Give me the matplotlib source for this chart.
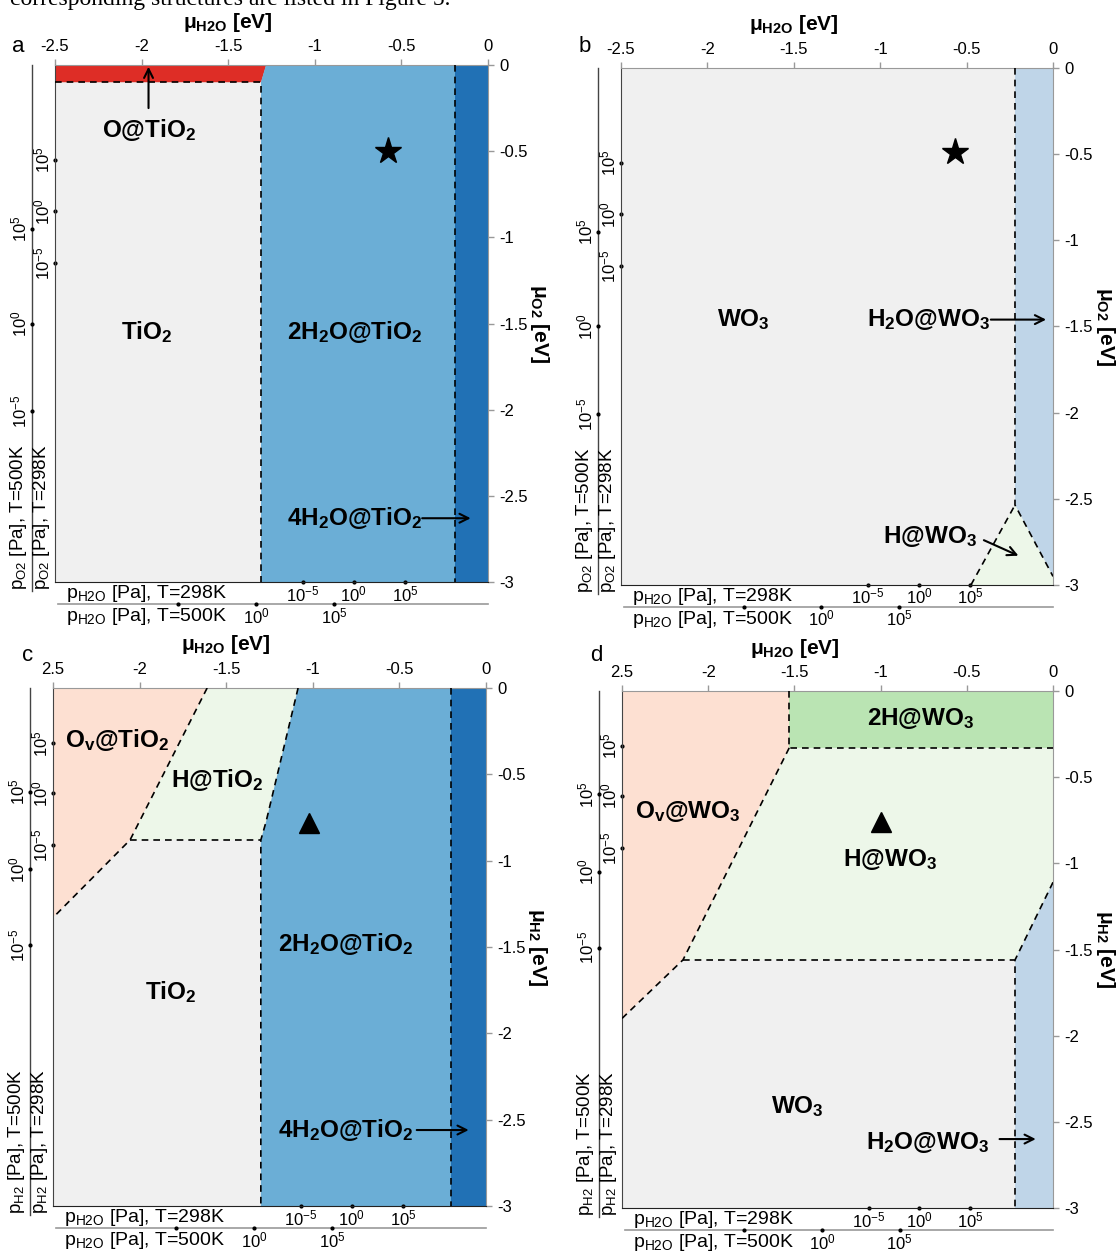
import matplotlib
matplotlib.use('Agg')
import matplotlib.pyplot as plt
import matplotlib.transforms as mtransforms
from matplotlib.patches import Polygon

plt.rcParams['font.family'] = ['Liberation Sans', 'DejaVu Sans']
plt.rcParams['mathtext.fontset'] = 'custom'
plt.rcParams['mathtext.rm'] = 'Liberation Sans'
plt.rcParams['mathtext.it'] = 'Liberation Sans:italic'
plt.rcParams['mathtext.bf'] = 'Liberation Sans:bold'
plt.rcParams['axes.unicode_minus'] = False

W, H, DPI = 1120, 1252, 100

# phase colours
GREY = '#f0f0f0'
RED = '#de2d26'
BLUE = '#6baed6'
DBLUE = '#2171b5'
LBLUE = '#bfd5e8'
PEACH = '#fde0d2'
LGREEN = '#edf7e9'
GREEN = '#bae4b3'

# chemical potential axes (eV)
mu_h2o_ticks = [-2.5, -2.0, -1.5, -1.0, -0.5, 0.0]
mu_h2o_labels_ab = ['-2.5', '-2', '-1.5', '-1', '-0.5', '0']
mu_h2o_labels_cd = ['2.5', '-2', '-1.5', '-1', '-0.5', '0']
mu_gas_ticks = [0.0, -0.5, -1.0, -1.5, -2.0, -2.5, -3.0]
mu_gas_labels = ['0', '-0.5', '-1', '-1.5', '-2', '-2.5', '-3']

# pressure scales, tick positions expressed in eV
p_h2o_298 = [-1.07, -0.775, -0.48]
p_h2o_298_labels = [r'10$^{-5}$', r'10$^{0}$', r'10$^{5}$']
p_h2o_500 = [-1.79, -1.34, -0.89]
p_h2o_500_labels = ['', r'10$^{0}$', r'10$^{5}$']
p_o2_298 = [-0.55, -0.85, -1.15]
p_o2_500 = [-0.95, -1.50, -2.01]
p_h2_298 = [-0.32, -0.61, -0.91]
p_h2_500 = [-0.60, -1.05, -1.49]
p_gas_labels = [r'10$^{5}$', r'10$^{0}$', r'10$^{-5}$']

# ---- panel a: TiO2 in O2 / H2O ----
a_tio2 = [(-2.5, -0.1), (-1.31, -0.1), (-1.31, -3), (-2.5, -3)]
a_o_tio2 = [(-2.5, 0), (-1.28, 0), (-1.31, -0.1), (-2.5, -0.1)]
a_2h2o = [(-1.28, 0), (-0.19, 0), (-0.19, -3), (-1.31, -3), (-1.31, -0.1)]
a_4h2o = [(-0.19, 0), (0, 0), (0, -3), (-0.19, -3)]
a_lines = [[(-2.5, -0.1), (-1.31, -0.1), (-1.31, -3)],
           [(-0.19, 0), (-0.19, -3)]]
a_star = (-0.575, -0.5)
a_labels = [(r'$\mathbf{O@TiO_2}$', -1.96, -0.38),
            (r'$\mathbf{TiO_2}$', -1.97, -1.55),
            (r'$\mathbf{2H_2O@TiO_2}$', -0.77, -1.55),
            (r'$\mathbf{4H_2O@TiO_2}$', -0.77, -2.63)]
a_arrows = [((-1.96, -0.25), (-1.96, -0.01)),
            ((-0.38, -2.63), (-0.10, -2.63))]

# ---- panel b: WO3 in O2 / H2O ----
b_h2o = [(-0.22, 0), (0, 0), (0, -2.95), (-0.22, -2.536)]
b_h = [(-0.475, -3), (-0.22, -2.536), (0, -2.95), (0, -3)]
b_lines = [[(-0.22, 0), (-0.22, -2.536), (0, -2.95)],
           [(-0.475, -3), (-0.22, -2.536)]]
b_star = (-0.567, -0.49)
b_labels = [(r'$\mathbf{WO_3}$', -1.79, -1.46),
            (r'$\mathbf{H_2O@WO_3}$', -0.72, -1.46),
            (r'$\mathbf{H@WO_3}$', -0.71, -2.72)]
b_arrows = [((-0.36, -1.46), (-0.04, -1.46)),
            ((-0.40, -2.74), (-0.20, -2.83))]

# ---- panel c: TiO2 in H2 / H2O ----
c_ov = [(-2.5, 0), (-1.61, 0), (-2.055, -0.88), (-2.5, -1.33)]
c_h = [(-1.61, 0), (-1.085, 0), (-1.27, -0.775), (-1.30, -0.88), (-2.055, -0.88)]
c_tio2 = [(-2.5, -1.33), (-2.055, -0.88), (-1.30, -0.88), (-1.30, -3), (-2.5, -3)]
c_2h2o = [(-1.085, 0), (-0.2, 0), (-0.2, -3), (-1.30, -3), (-1.30, -0.88), (-1.27, -0.775)]
c_4h2o = [(-0.2, 0), (0, 0), (0, -3), (-0.2, -3)]
c_lines = [[(-1.61, 0), (-2.055, -0.88), (-2.5, -1.33)],
           [(-2.055, -0.88), (-1.30, -0.88)],
           [(-1.085, 0), (-1.27, -0.775), (-1.30, -0.88), (-1.30, -3)],
           [(-0.2, 0), (-0.2, -3)]]
c_tri = (-1.02, -0.78)
c_labels = [(r'$\mathbf{O_v@TiO_2}$', -2.13, -0.30),
            (r'$\mathbf{H@TiO_2}$', -1.55, -0.53),
            (r'$\mathbf{2H_2O@TiO_2}$', -0.81, -1.48),
            (r'$\mathbf{TiO_2}$', -1.82, -1.76),
            (r'$\mathbf{4H_2O@TiO_2}$', -0.81, -2.56)]
c_arrows = [((-0.40, -2.56), (-0.10, -2.56))]

# ---- panel d: WO3 in H2 / H2O ----
d_ov = [(-2.5, 0), (-1.53, 0), (-1.53, -0.33), (-2.146, -1.56), (-2.5, -1.90)]
d_2h = [(-1.53, 0), (0, 0), (0, -0.33), (-1.53, -0.33)]
d_h = [(-1.53, -0.33), (0, -0.33), (0, -1.11), (-0.22, -1.56), (-2.146, -1.56)]
d_wo3 = [(-2.5, -1.90), (-2.146, -1.56), (-0.22, -1.56), (-0.22, -3), (-2.5, -3)]
d_h2o = [(0, -1.11), (-0.22, -1.56), (-0.22, -3), (0, -3)]
d_lines = [[(-1.53, 0), (-1.53, -0.33), (0, -0.33)],
           [(-1.53, -0.33), (-2.146, -1.56), (-2.5, -1.90)],
           [(-2.146, -1.56), (-0.22, -1.56), (-0.22, -3)],
           [(0, -1.11), (-0.22, -1.56)]]
d_tri = (-1.0, -0.76)
d_labels = [(r'$\mathbf{2H@WO_3}$', -0.77, -0.16),
            (r'$\mathbf{O_v@WO_3}$', -2.12, -0.70),
            (r'$\mathbf{H@WO_3}$', -0.945, -0.98),
            (r'$\mathbf{WO_3}$', -1.485, -2.41),
            (r'$\mathbf{H_2O@WO_3}$', -0.725, -2.62)]
d_arrows = [((-0.31, -2.60), (-0.10, -2.60))]

panels = [
    dict(letter='a', box=(55, 65, 488, 582), letter_xy=(18, 47),
         regions=[(GREY, a_tio2), (RED, a_o_tio2), (BLUE, a_2h2o), (DBLUE, a_4h2o)],
         lines=a_lines, labels=a_labels, arrows=a_arrows, marker=('*', a_star, 20),
         top=mu_h2o_labels_ab, gas='O2', p298=p_o2_298, p500=p_o2_500),
    dict(letter='b', box=(621, 68, 1053, 585), letter_xy=(585, 47),
         regions=[(LBLUE, b_h2o), (LGREEN, b_h)],
         lines=b_lines, labels=b_labels, arrows=b_arrows, marker=('*', b_star, 20),
         top=mu_h2o_labels_ab, gas='O2', p298=p_o2_298, p500=p_o2_500),
    dict(letter='c', box=(53, 688, 486, 1206), letter_xy=(28, 655),
         regions=[(PEACH, c_ov), (LGREEN, c_h), (GREY, c_tio2), (BLUE, c_2h2o), (DBLUE, c_4h2o)],
         lines=c_lines, labels=c_labels, arrows=c_arrows, marker=('^', c_tri, 14),
         top=mu_h2o_labels_cd, gas='H2', p298=p_h2_298, p500=p_h2_500),
    dict(letter='d', box=(622, 691, 1053, 1208), letter_xy=(596, 655),
         regions=[(PEACH, d_ov), (GREEN, d_2h), (LGREEN, d_h), (GREY, d_wo3), (LBLUE, d_h2o)],
         lines=d_lines, labels=d_labels, arrows=d_arrows, marker=('^', d_tri, 14),
         top=mu_h2o_labels_cd, gas='H2', p298=p_h2_298, p500=p_h2_500),
]

fig = plt.figure(figsize=(W / DPI, H / DPI), dpi=DPI)

# page text running into the top edge
fig.text(10 / W, 1 - 5 / H, 'corresponding structures are listed in Figure 5.',
         family='Liberation Serif', fontsize=17, va='baseline', ha='left')


def shift(trans, dx, dy):
    """Offset a transform by dx, dy pixels (dy positive downwards)."""
    return trans + mtransforms.ScaledTranslation(dx / DPI, -dy / DPI, fig.dpi_scale_trans)


def draw_panel(p):
    l, t, r, b = p['box']
    ax = fig.add_axes([l / W, 1 - b / H, (r - l) / W, (b - t) / H])
    ax.set_xlim(-2.5, 0)
    ax.set_ylim(-3, 0)
    ax.set_facecolor(GREY)

    for color, verts in p['regions']:
        ax.add_patch(Polygon(verts, closed=True, facecolor=color, edgecolor='none', zorder=1))
    for seg in p['lines']:
        xs = [v[0] for v in seg]
        ys = [v[1] for v in seg]
        ax.plot(xs, ys, ls=(0, (4, 3)), color='black', lw=1.2, zorder=3)

    mk, (mx, my), ms = p['marker']
    ax.plot([mx], [my], marker=mk, color='black', ms=ms, zorder=4)

    for txt, x, y in p['labels']:
        ax.text(x, y, txt, ha='center', va='center', fontsize=17.5, zorder=5)
    for (x0, y0), (x1, y1) in p['arrows']:
        ax.annotate('', xy=(x1, y1), xytext=(x0, y0),
                    arrowprops=dict(arrowstyle='->', lw=1.5, color='black',
                                    mutation_scale=16, shrinkA=0, shrinkB=0),
                    zorder=5)

    # mu_H2O on top, mu_gas on the right
    ax.xaxis.tick_top()
    ax.set_xticks(mu_h2o_ticks)
    ax.set_xticklabels(p['top'])
    ax.yaxis.tick_right()
    ax.set_yticks(mu_gas_ticks)
    ax.set_yticklabels(mu_gas_labels)
    ax.tick_params(axis='both', labelsize=12, length=4, width=1, color='#999999', pad=4)
    for side in ['top', 'right', 'left']:
        ax.spines[side].set_color('#999999')
    ax.spines['left'].set_color('#444444')
    ax.spines['bottom'].set_color('#222222')

    ax.text(0.40, 1.0, r'$\mathbf{\mu_{H2O}\ [eV]}$', transform=shift(ax.transAxes, 0, -43),
            ha='center', va='center', fontsize=15)
    gas_sub = p['gas']
    ax.text(1.0, 0.5, r'$\mathbf{\mu_{%s}\ [eV]}$' % gas_sub, transform=shift(ax.transAxes, 52, 0),
            ha='center', va='center', rotation=-90, fontsize=15)
    lx, ly = p['letter_xy']
    fig.text(lx / W, 1 - ly / H, p['letter'], ha='center', va='center', fontsize=16)

    # left pressure scales: inner = 298 K on the spine, outer = 500 K
    ax_y = mtransforms.blended_transform_factory(ax.transAxes, ax.transData)
    outer = shift(ax_y, -23, 0)
    ax.plot([0, 0], [0, -3.05], transform=outer, color='#444444', lw=1, clip_on=False)
    for trans, ticks in [(ax_y, p['p298']), (outer, p['p500'])]:
        for yv, lab in zip(ticks, p_gas_labels):
            ax.plot([0], [yv], marker='o', ms=2, color='black', transform=trans, clip_on=False)
            ax.text(0, yv, lab, transform=shift(trans, -3, 0), rotation=90,
                    ha='right', va='center', fontsize=12)
    sub = r'p$_{\mathrm{%s}}$ [Pa], T=' % gas_sub
    ax.text(0, -3, sub + '298K', transform=shift(ax_y, -3, 8), rotation=90,
            ha='right', va='bottom', fontsize=13.5)
    ax.text(0, -3, sub + '500K', transform=shift(outer, -3, 8), rotation=90,
            ha='right', va='bottom', fontsize=13.5)

    # bottom pressure scales for H2O
    ax_x = mtransforms.blended_transform_factory(ax.transData, ax.transAxes)
    low = shift(ax_x, 0, 22)
    ax.plot([-2.48, 0], [0, 0], transform=low, color='#999999', lw=1.2, clip_on=False)
    for trans, ticks, labs in [(ax_x, p_h2o_298, p_h2o_298_labels),
                               (low, p_h2o_500, p_h2o_500_labels)]:
        for xv, lab in zip(ticks, labs):
            ax.plot([xv], [0], marker='o', ms=2, color='black', transform=trans, clip_on=False)
            ax.text(xv, 0, lab, transform=shift(trans, 0, 2), ha='center', va='top',
                    fontsize=12)
    ax.text(0, 0, r'p$_{\mathrm{H2O}}$ [Pa], T=298K', transform=shift(ax.transAxes, 11, 1),
            ha='left', va='top', fontsize=14)
    ax.text(0, 0, r'p$_{\mathrm{H2O}}$ [Pa], T=500K', transform=shift(ax.transAxes, 11, 24),
            ha='left', va='top', fontsize=14)


for panel in panels:
    draw_panel(panel)

fig.savefig('out.png', dpi=DPI)
